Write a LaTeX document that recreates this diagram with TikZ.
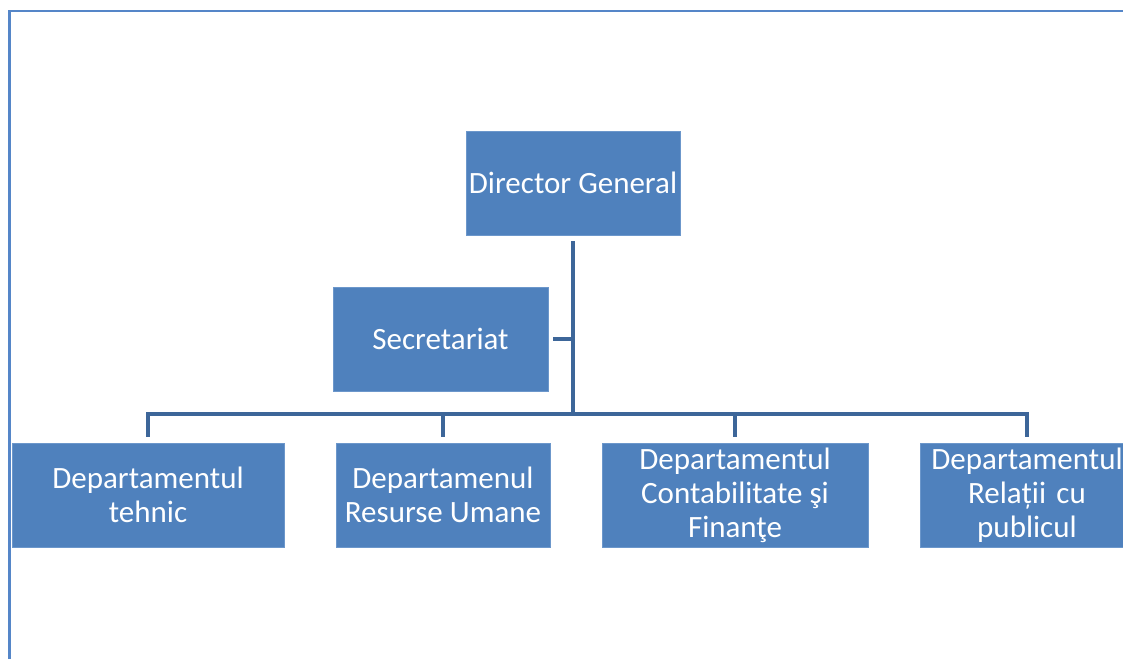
\documentclass[tikz,border=0pt]{standalone}
\usepackage{fontspec}
\setmainfont{Carlito}
\definecolor{boxfill}{HTML}{4F81BD}
\definecolor{boxedge}{HTML}{6C97CB}
\definecolor{connc}{HTML}{3D6699}
\definecolor{framec}{HTML}{5586C8}
\begin{document}
\begin{tikzpicture}[x=1pt,y=1pt,
  orgbox/.style={draw=boxedge,line width=0.8pt,fill=boxfill,text=white,align=center,
    minimum height=104pt,inner sep=1pt,font=\fontsize{31}{34}\selectfont},
  conn/.style={draw=connc,line width=4pt}]
\useasboundingbox (0,0) rectangle (1123,659);
\begin{scope}
\clip (0,0) rectangle (1123,659);
% frame
\draw[framec,line width=2.5pt] (9.5,0) -- (9.5,648) -- (1130,648);
% nodes
\node[orgbox,minimum width=214pt] (dir) at (573,476) {Director General};
\node[orgbox,minimum width=215pt] (sec) at (440.5,320) {Secretariat};
\node[orgbox,minimum width=272pt] (b1) at (148,164) {Departamentul\\tehnic};
\node[orgbox,minimum width=214pt] (b2) at (443,164) {Departamenul\\Resurse Umane};
\node[orgbox,minimum width=266pt] (b3) at (735,164) {Departamentul\\Contabilitate şi\\Finanţe};
\node[orgbox,minimum width=214pt,text width=212pt] (b4) at (1027,164) {Departamentul\\Relații cu\\publicul};
% connectors
\coordinate (bus) at (573,245);
\draw[conn] ([yshift=-6pt]dir.south) -- (bus);
\draw[conn] ([xshift=5pt]sec.east) -- (sec.east -| bus);
\draw[conn] ([xshift=-2pt]b1.north |- bus) -- ([xshift=2pt]b4.north |- bus);
\foreach \b in {b1,b2,b3,b4} \draw[conn] (\b.north |- bus) -- ([yshift=6pt]\b.north);
\end{scope}
\end{tikzpicture}
\end{document}
